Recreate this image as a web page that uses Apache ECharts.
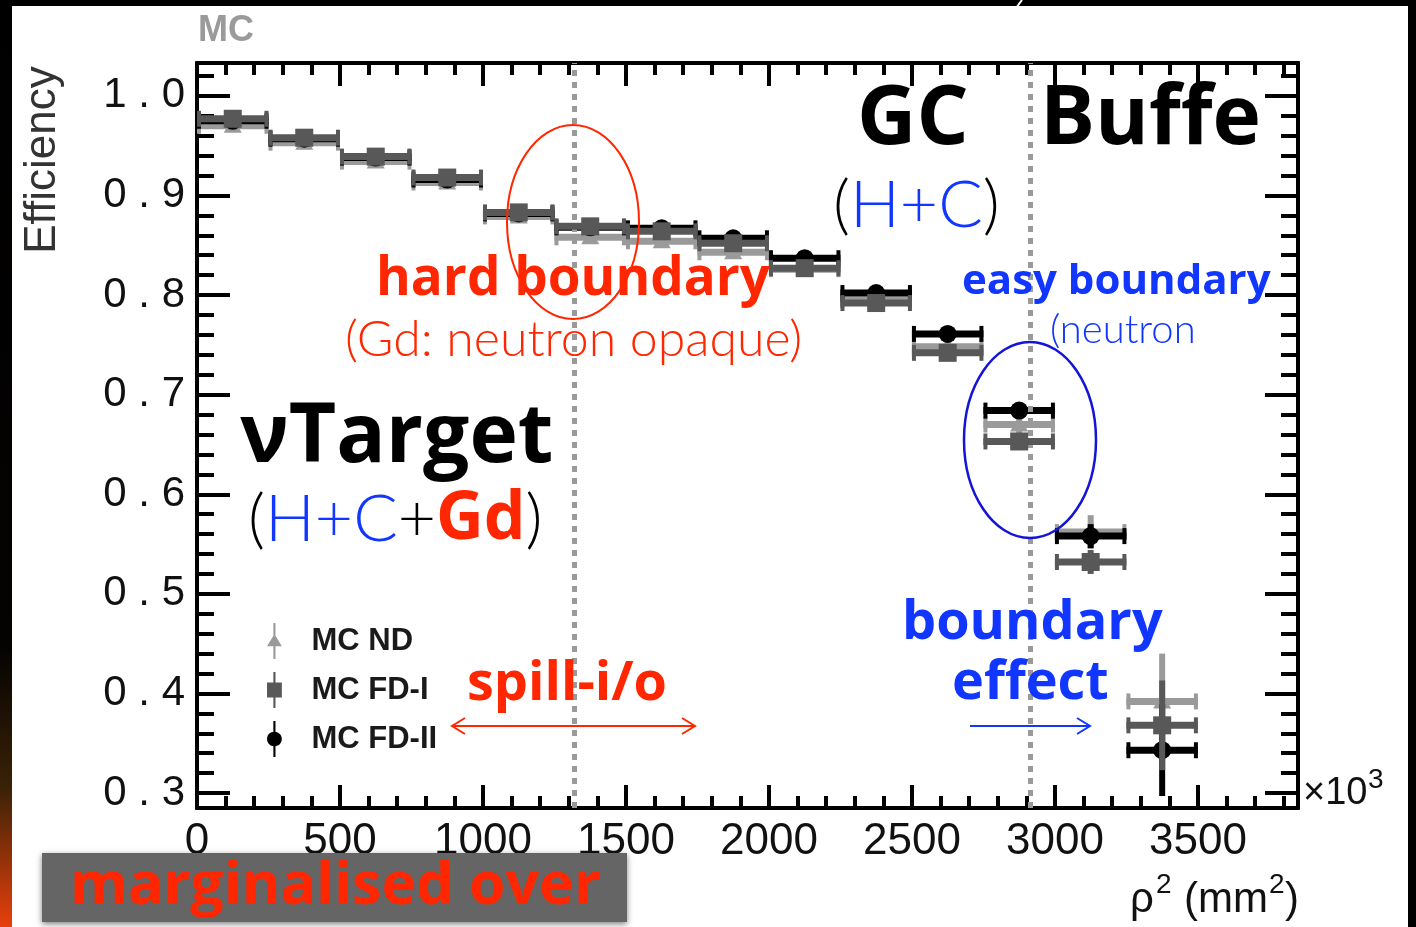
<!DOCTYPE html>
<html><head><meta charset="utf-8">
<script src="https://cdn.jsdelivr.net/npm/echarts@6/dist/echarts.min.js"></script>
<style>html,body{margin:0;padding:0;background:#fff;overflow:hidden}#c{width:1416px;height:927px}</style>
</head><body><div id="c"></div>
<script>
// ---------------- data ----------------
const binCenters = [125, 375, 625, 875, 1125, 1375, 1625, 1875, 2125, 2375, 2625, 2875, 3125, 3375];
const binHalfWidth = 125;
const effND  = [0.970, 0.953, 0.934, 0.913, 0.879, 0.858, 0.854, 0.843, 0.826, 0.795, 0.748, 0.670, 0.562, 0.392];
const errND  = [0.004, 0.004, 0.004, 0.004, 0.004, 0.005, 0.005, 0.005, 0.005, 0.006, 0.006, 0.009, 0.017, 0.048];
const effFD1 = [0.977, 0.958, 0.939, 0.918, 0.883, 0.869, 0.864, 0.852, 0.827, 0.792, 0.742, 0.653, 0.532, 0.368];
const errFD1 = [0.004, 0.004, 0.004, 0.004, 0.004, 0.005, 0.005, 0.005, 0.005, 0.006, 0.006, 0.008, 0.012, 0.045];
const effFD2 = [0.975, 0.957, 0.938, 0.916, 0.882, 0.868, 0.867, 0.857, 0.837, 0.802, 0.761, 0.684, 0.558, 0.343];
const errFD2 = [0.004, 0.004, 0.004, 0.004, 0.004, 0.005, 0.005, 0.005, 0.005, 0.006, 0.006, 0.008, 0.012, 0.046];
const seriesNames = ['MC ND', 'MC FD-I', 'MC FD-II'];
const boundaries = [1318, 2912];
const xMajorTicks = [0, 500, 1000, 1500, 2000, 2500, 3000, 3500];
const xMinorTicks = [100, 200, 300, 400, 600, 700, 800, 900, 1100, 1200, 1300, 1400, 1600, 1700, 1800, 1900,
  2100, 2200, 2300, 2400, 2600, 2700, 2800, 2900, 3100, 3200, 3300, 3400, 3600, 3700, 3800];
const yMajorTicks = [0.3, 0.4, 0.5, 0.6, 0.7, 0.8, 0.9, 1.0];
const yMinorTicks = [0.32, 0.34, 0.36, 0.38, 0.42, 0.44, 0.46, 0.48, 0.52, 0.54, 0.56, 0.58, 0.62, 0.64, 0.66, 0.68,
  0.72, 0.74, 0.76, 0.78, 0.82, 0.84, 0.86, 0.88, 0.92, 0.94, 0.96, 0.98, 1.02];
const xRange = [0, 3850];
const yRange = [0.285, 1.033];

// ---------------- styling ----------------
const RED = '#ff2600', BLUE = '#1036ff';
const colND = '#9a9a9a', colFD1 = '#585858', colFD2 = '#000000';
const bold = 'Open Sans', light = 'Lato';

function errRender(color, marker) {
  return function (params, api) {
    const x = api.value(0), y = api.value(1), e = api.value(2);
    const l = api.coord([x - binHalfWidth, y]);
    const r = api.coord([x + binHalfWidth, y]);
    const t = api.coord([x, y + e]);
    const b = api.coord([x, y - e]);
    const c = api.coord([x, y]);
    const kids = [
      {type: 'line', shape: {x1: l[0], y1: c[1], x2: r[0], y2: c[1]}, style: {stroke: color, lineWidth: 7}},
      {type: 'line', shape: {x1: t[0], y1: t[1], x2: b[0], y2: b[1]}, style: {stroke: color, lineWidth: 6}},
      {type: 'rect', shape: {x: l[0], y: c[1] - 8, width: 4, height: 16}, style: {fill: color}},
      {type: 'rect', shape: {x: r[0] - 4, y: c[1] - 8, width: 4, height: 16}, style: {fill: color}}
    ];
    if (marker === 'square') kids.push({type: 'rect', shape: {x: c[0] - 9, y: c[1] - 9, width: 18, height: 18}, style: {fill: color}});
    if (marker === 'circle') kids.push({type: 'circle', shape: {cx: c[0], cy: c[1], r: 9}, style: {fill: color}});
    if (marker === 'triangle') kids.push({type: 'polygon', shape: {points: [[c[0], c[1] - 9], [c[0] + 9, c[1] + 7], [c[0] - 9, c[1] + 7]]}, style: {fill: color}});
    return {type: 'group', children: kids};
  };
}
function pts(eff, err) { return binCenters.map((x, i) => [x, eff[i], err[i]]); }

function xAx(pos, ticks, len, labels) {
  return {
    type: 'value', position: pos, min: xRange[0], max: xRange[1], splitLine: {show: false},
    axisLine: {show: true, onZero: false, lineStyle: {color: '#000', width: 4}},
    axisTick: {show: true, inside: true, length: len, customValues: ticks, lineStyle: {color: '#000', width: 4}},
    axisLabel: labels ? {show: true, customValues: ticks, margin: 12, color: '#111', fontFamily: 'Liberation Sans', fontSize: 44,
      formatter: v => String(Math.round(v))} : {show: false}
  };
}
function yAx(pos, ticks, len, labels) {
  return {
    type: 'value', position: pos, min: yRange[0], max: yRange[1], splitLine: {show: false},
    axisLine: {show: true, onZero: false, lineStyle: {color: '#000', width: 4}},
    axisTick: {show: true, inside: true, length: len, customValues: ticks, lineStyle: {color: '#000', width: 4}},
    axisLabel: labels ? {show: true, customValues: ticks, margin: 12, color: '#111', fontFamily: 'Liberation Sans', fontSize: 42,
      formatter: v => v.toFixed(1).split('').join(' ')} : {show: false}
  };
}

function txt(x, y, text, font, fill, extra) {
  return {type: 'text', z: 100, style: Object.assign({x: x, y: y, text: text, font: font, fill: fill,
    textAlign: 'left', textVerticalAlign: 'middle', verticalAlign: 'middle'}, extra || {})};
}

const graphics = [
  // slide frame
  {type: 'rect', z: 0, shape: {x: 0, y: 0, width: 1416, height: 6}, style: {fill: '#000'}},
  {type: 'rect', z: 0, shape: {x: 1408, y: 0, width: 8, height: 927}, style: {fill: '#000'}},
  {type: 'rect', z: 0, shape: {x: 0, y: 0, width: 12, height: 927}, style: {fill: new echarts.graphic.LinearGradient(0, 0, 0, 1, [
    {offset: 0, color: '#000'}, {offset: 0.7, color: '#050302'}, {offset: 0.85, color: '#3a2206'}, {offset: 1, color: '#e8400c'}])}},
  {type: 'line', z: 1, shape: {x1: 1016, y1: 8, x2: 1022, y2: 0}, style: {stroke: '#fff', lineWidth: 2}},
  // axis texts
  txt(198, 31, 'MC', 'bold 36px "Liberation Sans"', '#9a9a9a'),
  {type: 'text', z: 100, x: 43, y: 160, rotation: Math.PI / 2, style: {x: 0, y: 0, text: 'Efficiency', font: '44px "Liberation Sans"', fill: '#333', textAlign: 'center', textVerticalAlign: 'middle', verticalAlign: 'middle'}},
  txt(1303, 794, '×10', '38px "Liberation Sans"', '#111'),
  txt(1368, 780, '3', '28px "Liberation Sans"', '#111'),
  txt(1130, 900, 'ρ', '42px "Liberation Sans"', '#111'),
  txt(1156, 885, '2', '28px "Liberation Sans"', '#111'),
  txt(1184, 900, '(mm', '42px "Liberation Sans"', '#111'),
  txt(1269, 885, '2', '28px "Liberation Sans"', '#111'),
  txt(1285, 900, ')', '42px "Liberation Sans"', '#111'),
  // annotations
  txt(857, 121, 'GC', 'bold 82px "' + bold + '"', '#000'),
  txt(1040, 121, 'Buffe', 'bold 82px "' + bold + '"', '#000'),
  txt(833, 206, '{k|(}{b|H+C}{k|)}', '66px "' + light + '"', '#000', {rich: {
    k: {fill: '#000', font: '300 66px "' + light + '"'}, b: {fill: BLUE, font: '300 66px "' + light + '"'}}}),
  txt(376, 280, 'hard boundary', 'bold 53px "' + bold + '"', RED),
  txt(345, 340, '(Gd: neutron opaque)', '300 50px "' + light + '"', RED),
  txt(962, 282, 'easy boundary', 'bold 42px "' + bold + '"', BLUE),
  txt(1050, 330, '(neutron', '300 40px "' + light + '"', BLUE),
  txt(240, 439, 'νTarget', 'bold 82px "' + bold + '"', '#000'),
  txt(248, 520, '{k|(}{b|H+C}{k|+}{r|Gd}{k|)}', '66px "' + light + '"', '#000', {rich: {
    k: {fill: '#000', font: '300 66px "' + light + '"'}, b: {fill: BLUE, font: '300 66px "' + light + '"'},
    r: {fill: RED, font: 'bold 66px "' + bold + '"'}}}),
  txt(902, 624, 'boundary', 'bold 54px "' + bold + '"', BLUE),
  txt(952, 684, 'effect', 'bold 54px "' + bold + '"', BLUE),
  txt(467, 685, 'spill-i/o', 'bold 54px "' + bold + '"', RED),
  // arrows
  {type: 'line', z: 100, shape: {x1: 452, y1: 726, x2: 695, y2: 726}, style: {stroke: RED, lineWidth: 2}},
  {type: 'polyline', z: 100, shape: {points: [[465, 718], [452, 726], [465, 734]]}, style: {stroke: RED, lineWidth: 2, fill: null}},
  {type: 'polyline', z: 100, shape: {points: [[682, 718], [695, 726], [682, 734]]}, style: {stroke: RED, lineWidth: 2, fill: null}},
  {type: 'line', z: 100, shape: {x1: 970, y1: 726, x2: 1090, y2: 726}, style: {stroke: BLUE, lineWidth: 2}},
  {type: 'polyline', z: 100, shape: {points: [[1077, 718], [1090, 726], [1077, 734]]}, style: {stroke: BLUE, lineWidth: 2, fill: null}},
  // ellipses
  {type: 'ellipse', z: 100, shape: {cx: 573, cy: 222, rx: 66, ry: 97}, style: {stroke: RED, lineWidth: 2, fill: null}},
  {type: 'ellipse', z: 100, shape: {cx: 1030, cy: 440, rx: 66, ry: 98}, style: {stroke: '#1414d8', lineWidth: 2.5, fill: null}},
  // marginalised box
  {type: 'rect', z: 100, shape: {x: 42, y: 853, width: 585, height: 69}, style: {fill: '#656565', shadowBlur: 6, shadowColor: 'rgba(0,0,0,0.5)', shadowOffsetY: 2}},
  txt(70, 887, 'marginalised over', 'bold 59px "' + bold + '"', RED, {shadowBlur: 4, shadowColor: 'rgba(0,0,0,0.6)', shadowOffsetY: 2})
];

const chart = echarts.init(document.getElementById('c'), null, {renderer: 'canvas'});
chart.setOption({
  backgroundColor: '#fff',
  animation: false,
  grid: {left: 197, right: 118, top: 63, bottom: 119, containLabel: false, outerBoundsMode: 'none'},
  xAxis: [xAx('bottom', xMajorTicks, 23, true), xAx('bottom', xMinorTicks, 12, false),
          xAx('top', xMajorTicks, 23, false), xAx('top', xMinorTicks, 12, false)],
  yAxis: [yAx('left', yMajorTicks, 33, true), yAx('left', yMinorTicks, 17, false),
          yAx('right', yMajorTicks, 33, false), yAx('right', yMinorTicks, 17, false)],
  legend: {
    orient: 'vertical', left: 262, top: 618, itemWidth: 20, itemHeight: 36, itemGap: 13, selectedMode: false,
    data: [
      {name: seriesNames[0], icon: 'path://M7,0H9V12L15,22H9V34H7V22H1L7,12Z'},
      {name: seriesNames[1], icon: 'path://M7,0H9V10H15V24H9V34H7V24H1V10H7Z'},
      {name: seriesNames[2], icon: 'path://M7,0H9V10.07A7,7 0 0 1 9,23.93V34H7V23.93A7,7 0 0 1 7,10.07Z'}
    ],
    textStyle: {fontFamily: 'Liberation Sans', fontWeight: 'bold', fontSize: 31, color: '#1a1a1a', padding: [0, 0, 0, 22]}
  },
  graphic: {elements: graphics},
  series: [
    {type: 'line', name: 'boundaries', data: [], z: 1, silent: true,
      markLine: {silent: true, symbol: ['none', 'none'], label: {show: false},
        lineStyle: {color: '#9a9a9a', width: 5, type: [6, 6]},
        data: boundaries.map(v => ({xAxis: v}))}},
    {type: 'custom', name: seriesNames[0], z: 3, renderItem: errRender(colND, 'triangle'), itemStyle: {color: colND},
      encode: {x: 0, y: 1}, data: pts(effND, errND)},
    {type: 'custom', name: seriesNames[2], z: 4, renderItem: errRender(colFD2, 'circle'), itemStyle: {color: colFD2},
      encode: {x: 0, y: 1}, data: pts(effFD2, errFD2)},
    {type: 'custom', name: seriesNames[1], z: 5, renderItem: errRender(colFD1, 'square'), itemStyle: {color: colFD1},
      encode: {x: 0, y: 1}, data: pts(effFD1, errFD1)}
  ]
});
</script></body></html>
